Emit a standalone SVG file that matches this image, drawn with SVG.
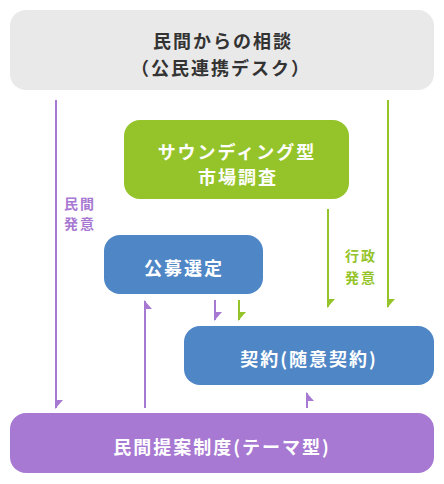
<svg xmlns="http://www.w3.org/2000/svg" width="444" height="484" viewBox="0 0 444 484">
<style>
.t{font-family:"Noto Sans CJK JP","Noto Sans",sans-serif;font-weight:700;font-size:18px;letter-spacing:2px;text-anchor:middle;dominant-baseline:central}
.w{fill:#ffffff}
.d{fill:#333333}
.s{font-family:"Noto Sans CJK JP","Noto Sans",sans-serif;font-weight:700;font-size:14px;letter-spacing:2px;text-anchor:middle;dominant-baseline:central}
.lp{stroke:#a779d2;stroke-width:2;fill:none}
.lg{stroke:#95c42a;stroke-width:2;fill:none}
.hp{fill:#a779d2}
.hg{fill:#95c42a}
</style>
<rect width="444" height="484" fill="#ffffff"/>
<g id="node-consult">
<rect x="10" y="10" width="424" height="80" rx="16" fill="#e9e9e9"/>
<text class="t d" x="223" y="40">民間からの相談</text>
<text class="t d" x="221" y="67">（公民連携デスク）</text>
</g>
<g id="node-sounding">
<rect x="124" y="120" width="225" height="79" rx="16" fill="#95c42a"/>
<text class="t w" x="237" y="151">サウンディング型</text>
<text class="t w" x="238" y="176">市場調査</text>
</g>
<g id="node-koubo">
<rect x="104" y="235" width="159" height="59" rx="16" fill="#4f86c6"/>
<text class="t w" x="184" y="267">公募選定</text>
</g>
<g id="node-keiyaku">
<rect x="184" y="326" width="250" height="59" rx="16" fill="#4f86c6"/>
<text class="t w" x="309" y="358">契約(随意契約)</text>
</g>
<g id="node-teian">
<rect x="10" y="413" width="424" height="60" rx="16" fill="#a779d2"/>
<text class="t w" x="222" y="446">民間提案制度(テーマ型)</text>
</g>
<g id="connectors">
<line class="lp" x1="56" y1="100" x2="56" y2="408"/>
<polygon class="hp" points="55,400 63,400 55,409"/>
<line class="lp" x1="145" y1="301" x2="145" y2="408"/>
<polygon class="hp" points="144,300 152,309 144,309"/>
<line class="lp" x1="215" y1="300" x2="215" y2="320"/>
<polygon class="hp" points="214,312 222,312 214,321"/>
<line class="lg" x1="239" y1="300" x2="239" y2="320"/>
<polygon class="hg" points="238,312 246,312 238,321"/>
<line class="lg" x1="328" y1="209" x2="328" y2="307"/>
<polygon class="hg" points="327,299 335,299 327,308"/>
<line class="lg" x1="388" y1="100" x2="388" y2="307"/>
<polygon class="hg" points="387,299 395,299 387,308"/>
<line class="lp" x1="307" y1="393" x2="307" y2="408"/>
<polygon class="hp" points="306,392 314,401 306,401"/>
</g>
<g id="labels">
<text class="s" x="80" y="203" fill="#a779d2">民間</text>
<text class="s" x="80" y="223" fill="#a779d2">発意</text>
<text class="s" x="361" y="255" fill="#95c42a">行政</text>
<text class="s" x="361" y="277" fill="#95c42a">発意</text>
</g>
</svg>
